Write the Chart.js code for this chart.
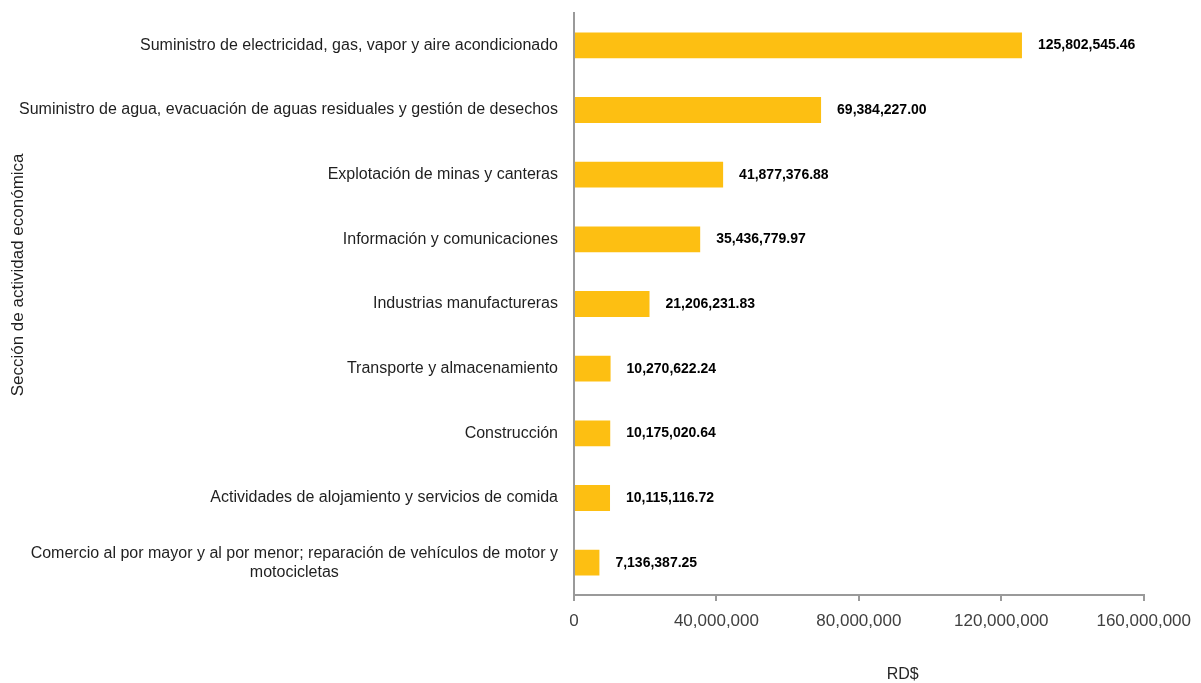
<!DOCTYPE html>
<html>
<head>
<meta charset="utf-8">
<script src="https://cdn.jsdelivr.net/npm/chart.js@4"></script>
<style>
  html, body { margin: 0; padding: 0; background: #fff; }
  #wrap { width: 1201px; height: 683px; }
</style>
</head>
<body>
<div id="wrap"><canvas id="myChart"></canvas></div>
<script>
// Sección de actividad económica, RD$
const categories = [
  'Suministro de electricidad, gas, vapor y aire acondicionado',
  'Suministro de agua, evacuación de aguas residuales y gestión de desechos',
  'Explotación de minas y canteras',
  'Información y comunicaciones',
  'Industrias manufactureras',
  'Transporte y almacenamiento',
  'Construcción',
  'Actividades de alojamiento y servicios de comida',
  ['Comercio al por mayor y al por menor; reparación de vehículos de motor y', 'motocicletas']
];
const values = [
  125802545.46, 69384227.00, 41877376.88, 35436779.97, 21206231.83,
  10270622.24, 10175020.64, 10115116.72, 7136387.25
];
const xTickValues = [0, 40000000, 80000000, 120000000, 160000000];

const fmtInt = v => Number(v).toLocaleString('en-US');
const fmtVal = v => Number(v).toLocaleString('en-US', {minimumFractionDigits: 2, maximumFractionDigits: 2});

const FONT = '"Liberation Sans", Arial, sans-serif';

// labels, data labels and axis titles drawn through the scales
const textPlugin = {
  id: 'textPlugin',
  afterDraw(chart) {
    const ctx = chart.ctx;
    const area = chart.chartArea;
    const yScale = chart.scales.y;
    ctx.save();

    // category labels (multi-line ones centered on each other)
    ctx.font = '16px ' + FONT;
    ctx.fillStyle = '#1f1f1f';
    ctx.textAlign = 'center';
    ctx.textBaseline = 'middle';
    categories.forEach((cat, i) => {
      const lines = Array.isArray(cat) ? cat : [cat];
      const maxW = Math.max(...lines.map(l => ctx.measureText(l).width));
      const cx = area.left - 16 - maxW / 2;
      const cy = yScale.getPixelForValue(i);
      const lh = 19;
      lines.forEach((l, j) => {
        ctx.fillText(l, cx, cy + (j - (lines.length - 1) / 2) * lh);
      });
    });

    // values next to bars
    ctx.font = 'bold 14px ' + FONT;
    ctx.fillStyle = '#000';
    ctx.textAlign = 'left';
    const meta = chart.getDatasetMeta(0);
    meta.data.forEach((bar, i) => {
      ctx.fillText(fmtVal(values[i]), bar.x + 16, bar.y);
    });

    // y axis title
    ctx.font = '17px ' + FONT;
    ctx.fillStyle = '#1f1f1f';
    ctx.textAlign = 'center';
    ctx.save();
    ctx.translate(18, area.top + (area.bottom - area.top) * 0.45);
    ctx.rotate(-Math.PI / 2);
    ctx.fillText('Sección de actividad económica', 0, 0);
    ctx.restore();

    // x axis title
    ctx.font = '16px ' + FONT;
    ctx.fillStyle = '#262626';
    ctx.fillText('RD$', area.left + (area.right - area.left) * 0.577, 675);

    ctx.restore();
  }
};

const data = {
  labels: categories,
  datasets: [{
    label: 'RD$',
    data: values,
    backgroundColor: '#FDBF12',
    borderWidth: 0,
    barPercentage: 0.4,
    categoryPercentage: 1.0
  }]
};

const config = {
  type: 'bar',
  data: data,
  options: {
    indexAxis: 'y',
    responsive: true,
    maintainAspectRatio: false,
    animation: false,
    layout: { padding: { left: 0, right: 52, top: 13, bottom: 0 } },
    plugins: {
      legend: { display: false },
      tooltip: { enabled: false }
    },
    scales: {
      x: {
        min: 0,
        max: 160000000,
        afterBuildTicks: scale => { scale.ticks = xTickValues.map(v => ({value: v})); },
        afterFit: scale => { scale.height = 88; },
        ticks: {
          callback: value => fmtInt(value),
          color: '#404040',
          font: { family: FONT, size: 17 },
          padding: 10,
          maxRotation: 0
        },
        grid: {
          display: true,
          drawOnChartArea: false,
          drawTicks: true,
          tickLength: 6,
          color: '#9a9a9a',
          lineWidth: 2
        },
        border: { display: true, color: '#9a9a9a', width: 2 }
      },
      y: {
        afterFit: scale => { scale.width = 574; },
        ticks: { display: false },
        grid: { display: false },
        border: { display: true, color: '#9a9a9a', width: 2 }
      }
    }
  },
  plugins: [textPlugin]
};

const myChart = new Chart(document.getElementById('myChart'), config);
</script>
</body>
</html>
